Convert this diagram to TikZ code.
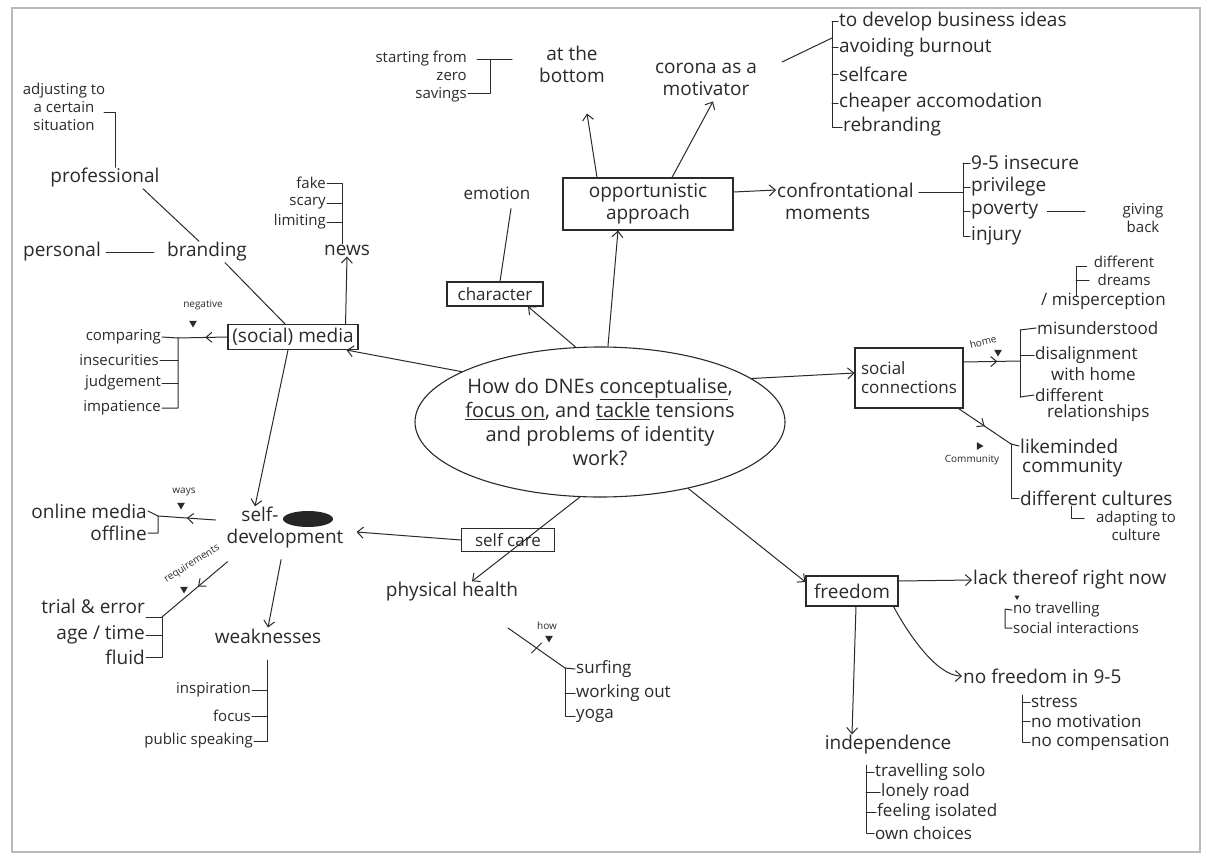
\documentclass[tikz,border=0pt]{standalone}
\usepackage{fontspec}
\setmainfont{Open Sans}
\usetikzlibrary{arrows.meta,shapes.geometric,decorations.markings}
\definecolor{ink}{HTML}{2A2A2A}
\begin{document}
\begin{tikzpicture}[x=1pt,y=-1pt,
  every node/.style={text=ink, inner sep=1pt},
  lbl/.style={font=\fontsize{19}{22}\selectfont, align=center},
  md/.style={font=\fontsize{17}{19}\selectfont, align=center},
  sm/.style={font=\fontsize{15}{18}\selectfont, align=center},
  xs/.style={font=\fontsize{10}{11}\selectfont},
  boxed/.style={draw=ink, line width=1.1pt, rectangle, inner sep=0pt},
  link/.style={draw=ink, line width=1pt, line cap=round, line join=round},
  arr/.style={link, -{Straight Barb[length=6pt,width=11pt]}},
  midarr/.style={postaction={decorate}, decoration={markings, mark=at position #1 with {\arrow{Straight Barb[length=6pt,width=10pt]}}}},
  tri/.style={regular polygon, regular polygon sides=3, fill=ink, draw=none, inner sep=0pt, minimum size=9pt, shape border rotate=180},
]
\useasboundingbox (0,0) rectangle (1212,859);
\fill[white] (0,0) rectangle (1212,859);
\draw[gray!55, line width=1.6pt] (12,8) rectangle (1200,852);

% ---------- centre ----------
\node[ellipse, draw=ink, line width=1.1pt, inner xsep=-8pt, inner ysep=0pt, minimum width=370pt, minimum height=150pt,
      font=\fontsize{20}{24}\selectfont, align=center] (q) at (600,422)
  {How do DNEs \underline{conceptualise},\\\underline{focus on}, and \underline{tackle} tensions\\and problems of identity\\work?};

% ---------- (social) media branch ----------
\node[sm] (adj) at (64,107) {adjusting to\\a certain\\situation};
\node[lbl] (prof) at (105,178) {professional};
\coordinate (adjA) at (104,112);
\coordinate (adjB) at (115,112);
\draw[link] (adjA) -- (adjB) -- (adjB |- prof.north);
\node[lbl] (pers) at (62,252) {personal};
\node[lbl] (brand) at (207,252) {branding};
\draw[link] ([xshift=4pt]pers.east) -- ([xshift=-12pt]brand.west);
\draw[link] ([xshift=38pt]prof.south) -- ([xshift=-8pt]brand.north);

\node[boxed, lbl, minimum width=130pt, minimum height=25pt] (media) at (293,337) {(social) media};
\draw[link] ([xshift=18pt]brand.south) -- ([xshift=-8pt]media.north);

\node[lbl] (news) at (347,250) {news};
\draw[arr] ([xshift=-13pt]media.north east) -- (news.south);
\node[sm, anchor=east] (fake) at (327,183) {fake};
\node[sm, anchor=east] (scary) at (327,203) {scary};
\node[sm, anchor=east] (limit) at (327,222) {limiting};
\coordinate (newsB) at (342,183);
\draw[link] (fake.east) -- (newsB) -- (newsB |- news.north);
\draw[link] (scary.east) -- (scary.east -| newsB);
\draw[link] (limit.east) -- (limit.east -| newsB);

\node[xs] (negl) at (203,305) {negative};
\node[tri] (negt) at (193,323) {};
\coordinate (negB) at (178,338);
\draw[link, midarr=0.45] (media.west) -- (negB);
\node[sm, anchor=east] (cmp) at (162,337) {comparing};
\node[sm, anchor=east] (ins) at (160,360) {insecurities};
\node[sm, anchor=east] (jud) at (162,383) {judgement};
\node[sm, anchor=east] (imp) at (162,408) {impatience};
\draw[link] (cmp.east) -- (negB) -- (negB |- imp.east) -- (imp.east);
\draw[link] (ins.east) -- (ins.east -| negB);
\draw[link] (jud.east) -- (jud.east -| negB);

\draw[arr] (q.160) -- ([xshift=-12pt]media.south east);

% ---------- self-development ----------
\node[lbl] (sd) at (285,528) {self-\hspace*{50pt}\\development};
\fill[ink!90!black] (308,519) ellipse [x radius=25, y radius=8];
\draw[arr] ([xshift=-5pt]media.south) -- ([xshift=-30pt]sd.north);

\node[xs] (waysl) at (184,492) {ways};
\node[tri] (wayst) at (181,505) {};
\coordinate (waysB) at (158,516);
\draw[link, midarr=0.5] ([xshift=-10pt,yshift=8pt]sd.west) -- (waysB);
\node[lbl, anchor=east] (onl) at (148,511) {online media};
\node[lbl, anchor=east] (off) at (148,533) {offline};
\draw[link] (onl.east) -- (waysB) -- (waysB |- off.east) -- (off.east);

\node[xs, rotate=32] (reql) at (192,564) {requirements};
\node[tri] (reqt) at (184,589) {};
\coordinate (reqB) at (162,617);
\draw[link, midarr=0.45] ([xshift=2pt,yshift=-12pt]sd.south west) -- (reqB);
\node[lbl, anchor=east] (trial) at (146,606) {trial \& error};
\node[lbl, anchor=east] (age) at (146,635) {age / time};
\node[lbl, anchor=east] (fluid) at (146,657) {fluid};
\draw[link] (reqB) -- (reqB |- fluid.east) -- (fluid.east);
\draw[link] (age.east) -- (age.east -| reqB);
\draw[link] ([yshift=-11pt]trial.east) -- (reqB);

\node[lbl] (weak) at (268,636) {weaknesses};
\draw[arr, shorten <=10pt] ([xshift=-2pt]sd.south) -- (weak.north);
\coordinate (wk) at (267,660);
\node[sm, anchor=east] (insp) at (252,690) {inspiration};
\node[sm, anchor=east] (foc) at (252,716) {focus};
\node[sm, anchor=east] (pub) at (254,741) {public speaking};
\draw[link] (wk) -- (wk |- pub.east) -- (pub.east);
\draw[link] (insp.east) -- (insp.east -| wk);
\draw[link] (foc.east) -- (foc.east -| wk);

% ---------- self care ----------
\node[boxed, md, minimum width=93pt, minimum height=23pt] (sc) at (508,540) {self care};
\draw[arr] (sc.west) -- ([xshift=12pt,yshift=-4pt]sd.east);
\node[lbl] (ph) at (452,592) {physical health};
\draw[arr] (q.255) -- ([xshift=20pt]ph.north);
\node[xs] (howl) at (547,626) {how};
\node[tri] (howt) at (549,638) {};
\coordinate (howA) at (508,628);
\coordinate (howB) at (565,668);
\draw[link] (howA) -- (howB);
\path (howA) -- (howB) coordinate[pos=0.5] (howM);
\draw[link] (howM) ++(-5,5) -- ++(10,-10);
\node[md, anchor=west] (surf) at (575,669) {surfing};
\node[md, anchor=west] (work) at (575,693) {working out};
\node[md, anchor=west] (yoga) at (575,716) {yoga};
\draw[link] (howB) -- (surf.west);
\draw[link] (howB) -- (howB |- yoga.west) -- (yoga.west);
\draw[link] (work.west -| howB) -- (work.west);

% ---------- character ----------
\node[boxed, md, minimum width=96pt, minimum height=24pt] (char) at (495,294) {character};
\node[md] (emo) at (497,193) {emotion};
\draw[link] ([xshift=14pt,yshift=-8pt]emo.south) -- ([xshift=5pt]char.north);
\draw[arr] (q.108) -- ([xshift=33pt]char.south);

% ---------- opportunistic approach ----------
\node[boxed, lbl, minimum width=170pt, minimum height=52pt] (opp) at (648,204) {opportunistic\\approach};
\draw[arr] (q.84) -- ([xshift=-30pt]opp.south);

\node[lbl] (atb) at (572,64) {at the\\bottom};
\draw[arr] ([xshift=-51pt]opp.north) -- ([xshift=15pt,yshift=-30pt]atb.south);
\node[sm, align=right, anchor=east] (start) at (468,77) {starting from\\zero\\savings};
\coordinate (stA) at (477,60);
\coordinate (stT) at (490,60);
\coordinate (stE) at (512,60);
\coordinate (stBot) at (490,93);
\draw[link] (stA) -- (stE);
\draw[link] (stT) -- (stBot) -- (stBot -| start.east);

\node[lbl] (cor) at (706,79) {corona as a\\motivator};
\draw[arr] ([xshift=24pt]opp.north) -- ([xshift=7pt,yshift=-5pt]cor.south);
\node[lbl, anchor=west] (c1) at (838,22) {to develop business ideas};
\node[lbl, anchor=west] (c2) at (838,48) {avoiding burnout};
\node[lbl, anchor=west] (c3) at (838,74) {selfcare};
\node[lbl, anchor=west] (c4) at (838,103) {cheaper accomodation};
\node[lbl, anchor=west] (c5) at (842,127) {rebranding};
\coordinate (cB) at (832,22);
\coordinate (cJ) at (832,38);
\draw[link] (cB) -- (cB |- c5.west) -- (c5.west);
\foreach \n in {c1,c2,c3,c4} \draw[link] (\n.west -| cB) -- (\n.west);
\draw[link] ([xshift=24pt,yshift=17pt]cor.east) -- (cJ);

\node[lbl, align=left, anchor=west] (conf) at (776,201) {confrontational\\\hspace{8pt}moments};
\draw[arr] ([yshift=12pt]opp.east) -- ([yshift=11pt]conf.west);
\coordinate (fB) at (963,163);
\coordinate (fM) at (963,192);
\draw[link] ([xshift=4pt,yshift=9pt]conf.east) -- (fM);
\node[lbl, anchor=west] (f1) at (970,163) {9-5 insecure};
\node[lbl, anchor=west] (f2) at (970,187) {privilege};
\node[lbl, anchor=west] (f3) at (970,211) {poverty};
\node[lbl, anchor=west] (f4) at (970,236) {injury};
\draw[link] (fB) -- (fB |- f4.west) -- (f4.west);
\foreach \n in {f1,f2,f3} \draw[link] (\n.west -| fB) -- (\n.west);
\node[sm] (give) at (1143,218) {giving\\back};
\coordinate (gv) at (1085,211);
\draw[link] ([xshift=8pt]f3.east) -- (gv);

% ---------- social connections ----------
\node[boxed, md, align=left, minimum width=108pt, minimum height=60pt] (soc) at (909,378) {social\\connections};
\draw[arr] (q.16) -- ([yshift=5pt]soc.west);
\coordinate (hB) at (1020,361);
\draw[link, midarr=0.6] ([yshift=16pt]soc.east) -- (hB);
\node[xs, rotate=14] (homel) at (983,342) {home};
\node[tri] (homet) at (998,352) {};
\coordinate (hT) at (1020,330);
\coordinate (hBot) at (1020,397);
\draw[link] (hT) -- (hBot);
\node[md, anchor=west] (h1) at (1036,328) {misunderstood};
\node[md, anchor=west] (h2a) at (1034,355) {disalignment};
\node[md, anchor=west] (h2b) at (1050,374) {with home};
\node[md, anchor=west] (h3a) at (1034,395) {different};
\node[md, anchor=west] (h3b) at (1046,413) {relationships};
\draw[link] (hT) -- (h1.west);
\draw[link] (h2a.west -| hT) -- (h2a.west);
\draw[link] (hBot) -- (h3a.west);
\node[md, anchor=west] (misp) at (1040,301) {/ misperception};
\node[sm] (dream) at (1124,271) {different\\dreams};
\coordinate (dF) at (1076,266);
\coordinate (dM) at (1076,280);
\coordinate (dBot) at (1076,296);
\draw[link] (dBot) -- (dF) -- ([xshift=-6pt]dream.west |- dF);
\draw[link] (dM) -- ++(13,0);

\coordinate (cmB) at (1011,444);
\draw[link, midarr=0.5] ([xshift=-5pt]soc.south east) -- (cmB);
\node[xs] (coml) at (972,460) {Community};
\node[tri, shape border rotate=150] (comt) at (979,446) {};
\node[lbl, anchor=west] (cm1a) at (1019,446) {likeminded};
\node[lbl, anchor=west] (cm1b) at (1021,468) {community};
\node[lbl, anchor=west] (cm2) at (1019,498) {different cultures};
\draw[link] (cmB) -- (cm1a.west);
\draw[link] (cmB) -- (cmB |- cm2.west) -- (cm2.west);
\node[sm] (adapt) at (1136,526) {adapting to\\culture};
\coordinate (adL) at (1071,506);
\draw[link] (adL) -- ++(0,12) -- ++(13,0);

% ---------- freedom ----------
\node[boxed, lbl, minimum width=92pt, minimum height=30pt] (fr) at (852,591) {freedom};
\draw[arr] (q.-37) -- ([yshift=9pt]fr.west);
\node[lbl, anchor=west] (lack) at (972,580) {lack thereof right now};
\draw[arr] ([yshift=10pt]fr.east) -- (lack.west);
\node[tri, minimum size=6pt] (lackt) at (1017,597) {};
\coordinate (lkB) at (1005,609);
\node[sm, anchor=west] (notr) at (1012,610) {no travelling};
\node[sm, anchor=west] (soci) at (1012,628) {social interactions};
\draw[link] (notr.west) -- (lkB) -- (lkB |- soci.west) -- (soci.west);

\node[lbl, anchor=west] (nf) at (962,676) {no freedom in 9-5};
\draw[arr] ([xshift=-5pt]fr.south east) .. controls +(15,28) and +(-25,0) .. (nf.west);
\coordinate (nfB) at (1022,695);
\node[md, anchor=west] (st) at (1030,702) {stress};
\node[md, anchor=west] (nm) at (1030,721) {no motivation};
\node[md, anchor=west] (nc) at (1030,742) {no compensation};
\draw[link] (nfB) -- (nfB |- nc.west) -- (nc.west);
\draw[link] (st.west -| nfB) -- (st.west);
\draw[link] (nm.west -| nfB) -- (nm.west);

\node[lbl] (ind) at (888,745) {independence};
\draw[arr] ([xshift=4pt]fr.south) -- ([xshift=-36pt]ind.north);
\coordinate (inB) at (866,765);
\node[md, anchor=west] (ts) at (874,772) {travelling solo};
\node[md, anchor=west] (lr) at (880,792) {lonely road};
\node[md, anchor=west] (fi) at (876,812) {feeling isolated};
\node[md, anchor=west] (oc) at (874,833) {own choices};
\draw[link] (inB) -- (inB |- oc.west) -- (oc.west);
\foreach \n in {ts,lr,fi} \draw[link] (\n.west -| inB) -- (\n.west);
\end{tikzpicture}
\end{document}
